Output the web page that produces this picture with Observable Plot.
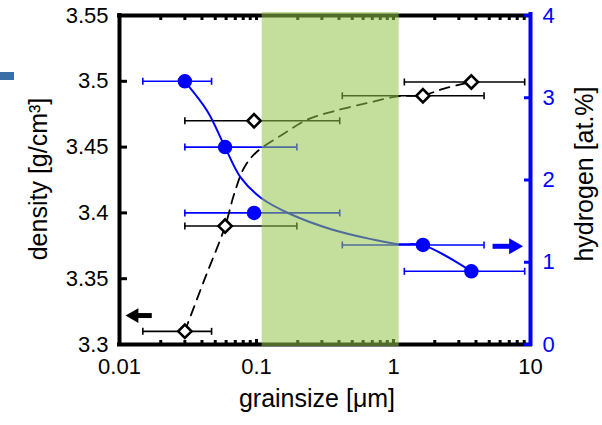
<!DOCTYPE html>
<html><head><meta charset="utf-8">
<script src="https://cdn.jsdelivr.net/npm/d3@7"></script>
<script src="https://cdn.jsdelivr.net/npm/@observablehq/plot@0.6"></script>
<style>
body{margin:0;background:#fff;}
#wrap{position:relative;width:602px;height:425px;}
#deco{position:absolute;left:0;top:72px;width:14px;height:8px;background:#3b6ea6;}
</style></head><body><div id="wrap"><div id="deco"></div></div>
<script>
// measured data
const grainsize = [0.03, 0.059, 0.096, 1.64, 3.7];
const errLow   = [0.0148, 0.03, 0.03, 0.423, 1.2];
const errHigh  = [0.047, 0.197, 0.405, 4.58, 9.07];
const density  = [3.31, 3.39, 3.47, 3.489, 3.4995];
const hydrogen = [3.2, 2.4, 1.6, 1.21, 0.89];
// fitted guide curves
const densityFitX = [0.03, 0.0414, 0.0589, 0.0686, 0.0812, 0.0989, 0.155, 0.236, 0.367, 0.649, 1.075, 1.64, 2.34, 3.7];
const densityFitY = [3.3101, 3.3485, 3.3896, 3.4142, 3.4343, 3.4457, 3.4596, 3.471, 3.4773, 3.4836, 3.4886, 3.4894, 3.4945, 3.4995];
const hydrogenFitX = [0.03, 0.0438, 0.0589, 0.0768, 0.1074, 0.178, 0.35, 0.686, 1.075, 1.64, 3.7];
const hydrogenFitY = [3.196, 2.836, 2.4, 2.028, 1.785, 1.584, 1.402, 1.281, 1.22, 1.208, 0.888];
// shaded grain-size window
const bandX = [0.11, 1.1];
// axis annotation arrows: [tip, tail, value]
const densityArrow = [0.01106, 0.01735, 3.322];
const hydrogenArrow = [8.83, 5.33, 1.194];
// ticks
const xTicks = [0.01, 0.1, 1, 10];
const densityTicks = [3.3, 3.35, 3.4, 3.45, 3.5, 3.55];
const hydrogenTicks = [0, 1, 2, 3, 4];
const xLabel = "grainsize [μm]";
const yLabel = "density [g/cm³]";
const y2Label = "hydrogen [at.%]";

const D0 = 3.3, D1 = 3.55, H1 = 4;
const toD = h => D0 + h * (D1 - D0) / H1;
const toH = d => (d - D0) * H1 / (D1 - D0);

const points = grainsize.map((x, i) => ({x, lo: errLow[i], hi: errHigh[i], d: density[i], h: toD(hydrogen[i])}));
const dFit = densityFitX.map((x, i) => ({x, y: densityFitY[i]}));
const hFit = hydrogenFitX.map((x, i) => ({x, y: toD(hydrogenFitY[i])}));
const minor = [];
for (const dec of [0.01, 0.1, 1]) for (let k = 2; k <= 9; k++) minor.push(+(k * dec).toPrecision(3));
const dArrow = [{tip: densityArrow[0], tail: densityArrow[1], y: densityArrow[2]}];
const hArrow = [{tip: hydrogenArrow[0], tail: hydrogenArrow[1], y: toD(hydrogenArrow[2])}];
const capSymbol = {draw(ctx, size) { const r = Math.sqrt(size / Math.PI); ctx.moveTo(0, -r); ctx.lineTo(0, r); }};
const font = "Liberation Sans, Arial, Helvetica, sans-serif";

const chart = Plot.plot({
  width: 602, height: 425,
  marginLeft: 119, marginRight: 72, marginTop: 15, marginBottom: 81,
  style: {fontFamily: font, fontSize: "22px", background: "white", color: "black"},
  x: {type: "log", domain: [0.01, 10]},
  y: {domain: [D0, D1]},
  marks: [
    // frame
    Plot.ruleY([D0, D1], {stroke: "black", strokeWidth: 4, insetLeft: -2, insetRight: -2}),
    Plot.ruleX([0.01], {stroke: "black", strokeWidth: 4, insetTop: -2, insetBottom: -2}),
    // axes
    Plot.axisY(densityTicks, {anchor: "left", tickSize: -8, tickPadding: 19, strokeWidth: 3, tickFormat: d => String(d), label: null}),
    Plot.axisX(xTicks, {anchor: "bottom", tickSize: -5, tickPadding: 19, strokeWidth: 3, tickFormat: d => String(d), label: null}),
    Plot.axisX(minor, {anchor: "bottom", tickSize: -4, strokeWidth: 3, tickFormat: () => "", label: null}),
    Plot.axisX(xTicks.concat(minor), {anchor: "top", tickSize: -4, strokeWidth: 3, tickFormat: () => "", label: null}),
    // error bars
    Plot.ruleY(points, {y: "d", x1: "lo", x2: "hi", stroke: "black", strokeWidth: 1.6}),
    Plot.dot(points, {x: "lo", y: "d", symbol: capSymbol, r: 3.5, stroke: "black", strokeWidth: 1.6}),
    Plot.dot(points, {x: "hi", y: "d", symbol: capSymbol, r: 3.5, stroke: "black", strokeWidth: 1.6}),
    Plot.ruleY(points, {y: "h", x1: "lo", x2: "hi", stroke: "blue", strokeWidth: 1.6}),
    Plot.dot(points, {x: "lo", y: "h", symbol: capSymbol, r: 3.5, stroke: "blue", strokeWidth: 1.6}),
    Plot.dot(points, {x: "hi", y: "h", symbol: capSymbol, r: 3.5, stroke: "blue", strokeWidth: 1.6}),
    // fitted curves
    Plot.line(dFit, {x: "x", y: "y", curve: "catmull-rom", stroke: "black", strokeWidth: 1.8, strokeDasharray: "10,7"}),
    Plot.line(hFit, {x: "x", y: "y", curve: "catmull-rom", stroke: "blue", strokeWidth: 2}),
    // markers
    Plot.dot(points, {x: "x", y: "d", symbol: "diamond2", r: 6, fill: "white", stroke: "black", strokeWidth: 2.6}),
    Plot.dot(points, {x: "x", y: "h", symbol: "circle", r: 6.5, fill: "blue", stroke: "blue"}),
    // green window
    Plot.rect([bandX], {x1: d => d[0], x2: d => d[1], y1: D0, y2: D1, insetTop: -3, insetBottom: -2, fill: "rgb(145,196,73)", fillOpacity: 0.55}),
    // right axis
    Plot.ruleX([10], {stroke: "blue", strokeWidth: 4, insetTop: -3, insetBottom: -2}),
    Plot.axisY(hydrogenTicks.map(toD), {anchor: "right", tickSize: -7, tickPadding: 19, strokeWidth: 3, color: "blue", tickFormat: d => String(Math.round(toH(d))), label: null}),
    // arrows
    Plot.ruleY(dArrow, {y: "y", x1: "tip", x2: "tail", insetLeft: 8, stroke: "black", strokeWidth: 5}),
    Plot.dot(dArrow, {x: "tip", y: "y", symbol: "triangle", r: 5.5, fill: "black", rotate: -90, dx: 8.6}),
    Plot.ruleY(hArrow, {y: "y", x1: "tail", x2: "tip", insetRight: 9, stroke: "blue", strokeWidth: 5}),
    Plot.dot(hArrow, {x: "tip", y: "y", symbol: "triangle", r: 6, fill: "blue", rotate: 90, dx: -9.3}),
    // axis titles
    Plot.text([xLabel], {frameAnchor: "bottom", textAnchor: "middle", dx: -8, dy: 62, fontSize: 25, fill: "black"}),
    Plot.text([yLabel], {frameAnchor: "left", textAnchor: "middle", rotate: -90, dx: -81, dy: -1, fontSize: 25, fill: "black"}),
    Plot.text([y2Label], {frameAnchor: "right", textAnchor: "middle", rotate: -90, dx: 54, dy: -6, fontSize: 25, fill: "black"})
  ]
});
document.getElementById("wrap").appendChild(chart);
</script></body></html>
